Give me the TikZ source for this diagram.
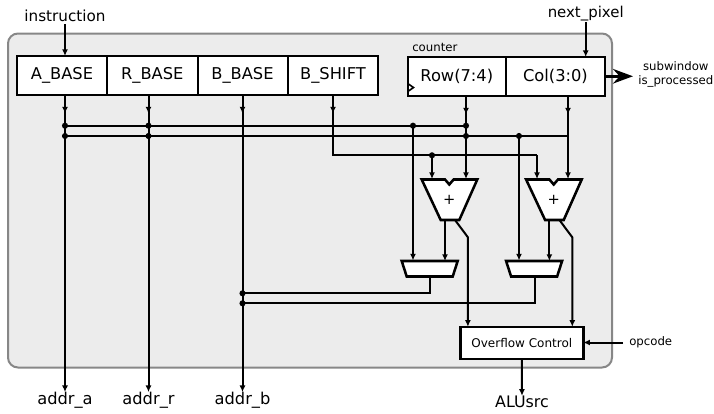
\documentclass[tikz,border=0pt]{standalone}
\usepackage{fontspec}
\setmainfont{DejaVu Sans}
\usetikzlibrary{arrows.meta,calc}

\begin{document}
\begin{tikzpicture}[
  x=0.75pt, y=-0.75pt,
  reg/.style={draw, line width=1.5pt, fill=white, minimum height=28.9pt, inner sep=0pt, outer sep=0pt,
              font=\fontsize{12.2}{14}\selectfont},
  lb/.style={font=\fontsize{#1}{#1}\selectfont, inner sep=0pt, align=center},
  wr/.style={line width=1.5pt},
  ar/.style={wr, -{Latex[length=5pt,width=4.5pt]}},
  unit/.style={draw, line width=1.9pt, fill=white, line join=miter},
  dot/.style={circle, fill=black, inner sep=0pt, minimum size=4.6pt},
]
\useasboundingbox (0,0) rectangle (714,414);

\draw[draw=black!47, fill=black!7.5, line width=1.5pt, rounded corners=7.5pt]
  (8,33.5) rectangle (612,367.5);

\node[reg, minimum width=67.5pt, anchor=north west] (A) at (17,56) {A\_BASE};
\node[reg, minimum width=67.9pt, anchor=north west] (R) at (107,56) {R\_BASE};
\node[reg, minimum width=67.5pt, anchor=north west] (B) at (197.5,56) {B\_BASE};
\node[reg, minimum width=68.2pt, anchor=north west] (S) at (287.5,56) {B\_SHIFT};
\node[reg, minimum width=73.9pt, anchor=north west] (Row) at (407.5,57) {Row(7:4)};
\node[reg, minimum width=74.2pt, anchor=north west] (Col) at (506,57) {Col(3:0)};
\draw[line width=1.2pt] ($(Row.south west)+(1,-4.5)$) -- ++(5,-3.5) -- ++(-5,-3.5);

\node[lb=11.4] (instruction) at (65,16) {instruction};
\node[lb=11.2] (nextpixel) at (585.7,13.5) {next\_pixel};
\node[lb=8.8, anchor=west] (counter) at (412,47) {counter};
\node[lb=8.8, anchor=west] (subwindow) at (638,74.5) {subwindow\\[1.3pt]is\_processed};
\node[lb=8.8, anchor=west] (opcode) at (629,342.5) {opcode};
\node[lb=12.2] (addra) at (65,400.5) {addr\_a};
\node[lb=12.2] (addrr) at (148.5,400.5) {addr\_r};
\node[lb=12.2] (addrb) at (242.5,400.5) {addr\_b};
\node[lb=11.9] (alusrc) at (522,402) {ALUsrc};

\node[draw, line width=1.9pt, fill=white, minimum width=92.2pt, minimum height=24.2pt, inner sep=0pt, outer sep=0pt,
      font=\fontsize{9}{10}\selectfont] (ovf) at (521.8,342.9) {Overflow Control};

\foreach \n/\dx in {1/0,2/104.4}{
  \begin{scope}[shift={(\dx,0)}]
    \draw[unit] (421.7,179.5) -- (445,179.5) -- (449.3,184.5) -- (453.6,179.5) -- (477.3,179.5)
      -- (459.3,220) -- (440.7,220) -- cycle;
    \draw[unit] (401.7,261) -- (457.7,261) -- (452.7,276.5) -- (406.7,276.5) -- cycle;
    \node[lb=11] (add\n) at (449.3,200) {+};
    \node[inner sep=0pt] (mux\n) at (429.7,268.7) {};
    \coordinate (sum\n) at (445,220);
    \coordinate (sumin\n) at (445,261);
    \coordinate (cy\n) at (455,220);
    \coordinate (cyb\n) at (467.9,237.3);
  \end{scope}
}

\coordinate (a1) at (65,125.7);
\coordinate (a2) at (65,136);
\coordinate (r1) at (148.5,125.7);
\coordinate (r2) at (148.5,136);
\coordinate (b1) at (242.5,293.3);
\coordinate (b2) at (242.5,303.3);
\coordinate (row1) at (466,125.7);
\coordinate (row2) at (466,136);
\coordinate (col2) at (568,136);
\coordinate (m1) at (413,125.7);
\coordinate (m2) at (519,136);
\coordinate (sh1) at (333,155.3);
\coordinate (sh2) at (432,155.3);
\coordinate (sh3) at (537,155.3);

\draw[ar] (instruction.south) ++(0,2) -- (a1 |- A.north);
\draw[ar] (nextpixel.south) ++(0,1) -- (Col.north -| nextpixel);
\draw[ar, line width=1.9pt, -{Stealth[length=15pt,width=11pt,inset=5pt]}] (Col.east) -- ++(28,0);

\draw[ar] (a1 |- A.south) -- ++(0,19);
\draw[ar] (r1 |- R.south) -- ++(0,19);
\draw[ar] (b1 |- B.south) -- ++(0,19);
\draw[ar] (sh1 |- S.south) -- ++(0,19);
\draw[ar] (row1 |- Row.south) -- ++(0,19);
\draw[ar] (col2 |- Col.south) -- ++(0,19);

\draw[ar] (a1 |- A.south) -- (addra.north);
\draw[ar] (r1 |- R.south) -- (addrr.north);
\draw[ar] (b1 |- B.south) -- (addrb.north);
\draw[wr] (a1) -- (row1);
\draw[wr] (a2) -- (col2);
\draw[wr] (sh1 |- S.south) -- (sh1) -- (sh3);
\draw[ar] (sh3) -- (sh3 |- 0,179);
\draw[ar] (sh2) -- (sh2 |- 0,179);
\draw[ar] (row1 |- Row.south) -- (row1 |- 0,179);
\draw[ar] (col2 |- Col.south) -- (col2 |- 0,179);
\draw[ar] (m1) -- (m1 |- 0,260.5);
\draw[ar] (m2) -- (m2 |- 0,260.5);

\draw[ar] (sum1) -- (sumin1);
\draw[ar] (sum2) -- (sumin2);
\draw[ar] (cy1) -- (cyb1) -- (cyb1 |- ovf.north);
\draw[ar] (cy2) -- (cyb2) -- (cyb2 |- ovf.north);
\draw[wr] (mux1.center |- 0,276.5) -- (mux1.center |- b1) -- (b1);
\draw[wr] ($(mux2.center)+(1,7.8)$) -- ($(mux2.center |- b2)+(1,0)$) -- (b2);
\draw[ar] (opcode.west) ++(-6,0) -- (ovf.east |- opcode);
\draw[ar] (ovf.south) -- (alusrc.north);

\foreach \p in {a1,a2,r1,r2,b1,b2,row1,row2,m1,m2,sh2}
  \node[dot] (d\p) at (\p) {};
\end{tikzpicture}
\end{document}
